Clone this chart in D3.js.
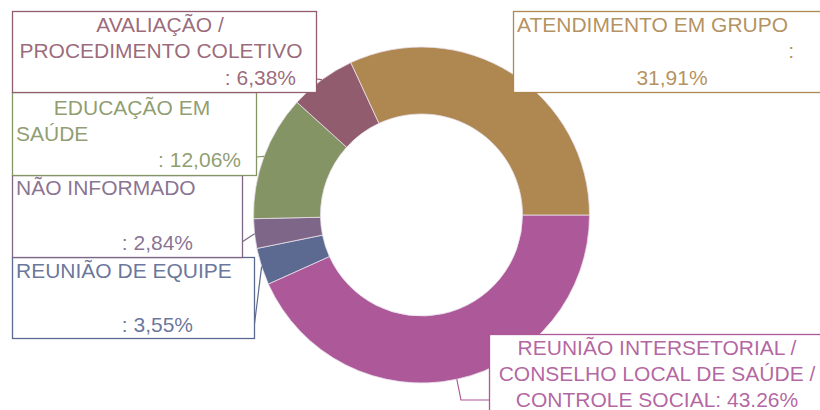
<!DOCTYPE html>
<html>
<head>
<meta charset="utf-8">
<script src="https://cdn.jsdelivr.net/npm/d3@7"></script>
<style>
  body { margin: 0; background: #fff; }
  svg text { font-family: "Liberation Sans", Arial, sans-serif; }
</style>
</head>
<body>
<div id="chart"></div>
<script>
// slices, clockwise from 3 o'clock
var categories = ["REUNIÃO INTERSETORIAL / CONSELHO LOCAL DE SAÚDE / CONTROLE SOCIAL",
    "REUNIÃO DE EQUIPE", "NÃO INFORMADO", "EDUCAÇÃO EM SAÚDE",
    "AVALIAÇÃO / PROCEDIMENTO COLETIVO", "ATENDIMENTO EM GRUPO"];
var values = [43.26, 3.55, 2.84, 12.06, 6.38, 31.91];
var valueLabels = ["43.26%", "3,55%", "2,84%", "12,06%", "6,38%", "31,91%"];
var colors = ["#ad5899", "#5c6a92", "#7e6688", "#859464", "#925c6f", "#ae8751"];

// label boxes: rect + wrapped lines (text, x, y, anchor) + leader path end
var labelLayout = [
    { box: [489, 334, 340, 90], lines: [["REUNIÃO INTERSETORIAL /", 657, 355, "middle"], ["CONSELHO LOCAL DE SAÚDE /", 657, 381, "middle"], ["CONTROLE SOCIAL: " + valueLabels[0], 657, 407, "middle"]], leader: [[461, 400], [489, 400]] },
    { box: [12, 257, 242, 81], lines: [["REUNIÃO DE EQUIPE", 16, 278, "start"], [": " + valueLabels[1], 193, 332, "end"]], leader: [[254, 328]] },
    { box: [12, 175, 230, 82], lines: [["NÃO INFORMADO", 16, 195, "start"], [": " + valueLabels[2], 193, 250, "end"]], leader: [[242, 242]] },
    { box: [12, 92, 244, 83], lines: [["EDUCAÇÃO EM", 132, 115, "middle"], ["SAÚDE", 16, 141, "start"], [": " + valueLabels[3], 241, 167, "end"]], leader: [[256, 157]] },
    { box: [12, 11, 304, 81], lines: [["AVALIAÇÃO /", 160, 32, "middle"], ["PROCEDIMENTO COLETIVO", 161, 58, "middle"], [": " + valueLabels[4], 296, 85, "end"]], leader: [[316, 79]] },
    { box: [513, 11, 320, 81], lines: [["ATENDIMENTO EM GRUPO", 517, 32, "start"], [":", 794, 58, "end"], [valueLabels[5], 672, 85, "middle"]], leader: null }
];

var width = 820, height = 410,
    cx = 421.5, cy = 215,
    outerR = 168, innerR = 101;

var svg = d3.select("#chart").append("svg")
    .attr("width", width)
    .attr("height", height)

var data = values.map(function (v, i) {
    return { name: categories[i], value: v, color: colors[i], layout: labelLayout[i] }
})

var pie = d3.pie()
    .sort(null)
    .value(function (d) { return d.value })
    .startAngle(Math.PI / 2)
    .endAngle(Math.PI / 2 + 2 * Math.PI)

var arc = d3.arc()
    .innerRadius(innerR)
    .outerRadius(outerR)

var arcs = pie(data)

var g = svg.append("g")
    .attr("transform", "translate(" + cx + "," + cy + ")")

g.selectAll("path.slice")
    .data(arcs)
    .enter().append("path")
    .attr("class", "slice")
    .attr("d", arc)
    .attr("fill", function (d) { return d.data.color })
    .attr("stroke", "#e8e0ea")
    .attr("stroke-width", 0.8)

// leader lines from outer edge at mid angle
arcs.forEach(function (d) {
    var lay = d.data.layout
    if (!lay.leader) return;
    var mid = (d.startAngle + d.endAngle) / 2
    var pts = [[cx + outerR * Math.sin(mid), cy - outerR * Math.cos(mid)]].concat(lay.leader)
    svg.append("path")
        .attr("d", d3.line()(pts))
        .attr("fill", "none")
        .attr("stroke", d.data.color)
        .attr("stroke-width", 1.2)
})

// label boxes
arcs.forEach(function (d) {
    var lay = d.data.layout
    var lg = svg.append("g")
    lg.append("rect")
        .attr("x", lay.box[0] + 0.5)
        .attr("y", lay.box[1] + 0.5)
        .attr("width", lay.box[2])
        .attr("height", lay.box[3])
        .attr("fill", "#fff")
        .attr("stroke", d.data.color)
        .attr("stroke-width", 1.3)
    lay.lines.forEach(function (l) {
        lg.append("text")
            .attr("x", l[1])
            .attr("y", l[2])
            .attr("text-anchor", l[3])
            .attr("font-size", 21)
            .attr("fill", d.data.color)
            .attr("fill-opacity", 0.92)
            .text(l[0])
    })
})
</script>
</body>
</html>
